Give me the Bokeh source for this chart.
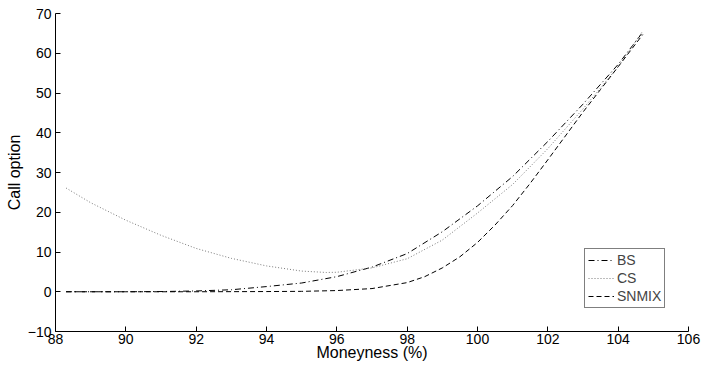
from bokeh.plotting import figure
from bokeh.models import FixedTicker, Range1d, Legend, LegendItem
from bokeh.embed import file_html
from bokeh.resources import INLINE

# Data
bs_x = [88.3, 89, 90, 91, 92, 93, 93.5, 94, 95, 96, 97, 98, 99, 100, 101, 102, 103, 104, 104.7]
bs_y = [0.0, 0.0, 0.0, 0.05, 0.2, 0.5, 0.9, 1.3, 2.2, 3.8, 6.2, 9.6, 15.1, 21.6, 29.0, 37.8, 47.2, 57.2, 65.3]

cs_x = [88.3, 89, 90, 91, 92, 93, 94, 95, 95.7, 96, 97, 98, 99, 100, 101, 102, 103, 104, 104.7]
cs_y = [26.1, 22.4, 18.0, 14.2, 10.9, 8.4, 6.5, 5.2, 4.85, 4.9, 6.0, 8.3, 13.0, 19.8, 27.0, 36.0, 46.0, 56.6, 65.6]

sn_x = [88.3, 90, 92, 94, 95, 96, 97, 98, 98.5, 99, 99.5, 100, 100.5, 101, 101.5, 102, 102.5, 103, 103.5, 104, 104.7]
sn_y = [0.0, 0.0, 0.0, 0.05, 0.1, 0.3, 0.8, 2.3, 3.8, 6.0, 8.8, 12.4, 16.8, 21.7, 27.3, 33.2, 39.2, 45.2, 50.9, 56.6, 64.7]

x_ticks = [88, 90, 92, 94, 96, 98, 100, 102, 104, 106]
y_ticks = [-10, 0, 10, 20, 30, 40, 50, 60, 70]
series_names = ["BS", "CS", "SNMIX"]

FONT = "Liberation Sans"

p = figure(width=704, height=366, output_backend="svg", toolbar_location=None,
           x_range=Range1d(88, 106), y_range=Range1d(-10, 70),
           min_border_left=55, min_border_right=16, min_border_top=13, min_border_bottom=35)
p.outline_line_color = None
p.xgrid.grid_line_color = None
p.ygrid.grid_line_color = None
p.background_fill_color = "white"
p.border_fill_color = "white"

for ax in (p.xaxis[0], p.yaxis[0]):
    ax.major_tick_in = 5
    ax.major_tick_out = 0
    ax.minor_tick_line_color = None
    ax.axis_line_color = "black"
    ax.major_tick_line_color = "black"
    ax.major_label_text_font = FONT
    ax.major_label_text_font_size = "14px"
    ax.major_label_text_color = "black"
    ax.axis_label_text_font = FONT
    ax.axis_label_text_font_size = "16px"
    ax.axis_label_text_font_style = "normal"
    ax.axis_label_text_color = "black"

p.xaxis.ticker = FixedTicker(ticks=x_ticks)
p.yaxis.ticker = FixedTicker(ticks=y_ticks)
p.xaxis.axis_label = "Moneyness (%)"
p.yaxis.axis_label = "Call option"
p.xaxis.major_label_standoff = 2
p.xaxis.axis_label_standoff = -3
p.yaxis.major_label_standoff = 4
p.yaxis.axis_label_standoff = 2

r_bs = p.line(bs_x, bs_y, line_color="black", line_width=1, line_dash="6 3 1 3")
r_cs = p.line(cs_x, cs_y, line_color="#7a7a7a", line_width=1, line_dash="1 2")
r_sn = p.line(sn_x, sn_y, line_color="black", line_width=1, line_dash="5 3")

legend = Legend(items=[LegendItem(label=series_names[0], renderers=[r_bs]),
                       LegendItem(label=series_names[1], renderers=[r_cs]),
                       LegendItem(label=series_names[2], renderers=[r_sn])],
                location=(529, 23))
legend.border_line_color = "black"
legend.border_line_width = 1
legend.background_fill_alpha = 1
legend.label_text_font = FONT
legend.label_text_font_size = "14px"
legend.glyph_width = 26
legend.glyph_height = 16
legend.label_height = 16
legend.label_standoff = 3
legend.spacing = 2
legend.padding = 3
legend.margin = 0
p.add_layout(legend, "center")

open("out.html", "w").write(file_html(p, INLINE))
